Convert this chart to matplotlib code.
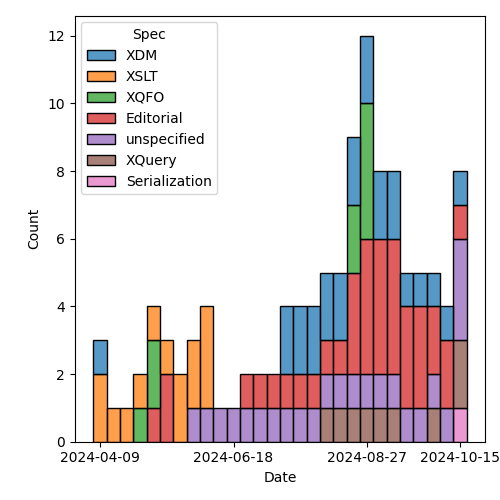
import numpy as np
import matplotlib
matplotlib.use("Agg")
import matplotlib.pyplot as plt
import matplotlib.dates as mdates
from matplotlib.patches import Patch
from matplotlib.colors import to_rgba

# weekly bins starting date
bin_start = np.datetime64("2024-04-05T08:00")
n_bins = 28
bin_days = 7

specs = ["XDM", "XSLT", "XQFO", "Editorial", "unspecified", "XQuery", "Serialization"]

#            1  2  3  4  5  6  7  8  9 10 11 12 13 14 15 16 17 18 19 20 21 22 23 24 25 26 27 28
XDM =       [1, 0, 0, 0, 0, 0, 0, 0, 0, 0, 0, 0, 0, 0, 2, 2, 2, 2, 2, 2, 2, 2, 2, 1, 1, 1, 1, 1]
XSLT =      [2, 1, 1, 1, 1, 1, 2, 2, 3, 0, 0, 0, 0, 0, 0, 0, 0, 0, 0, 0, 0, 0, 0, 0, 0, 0, 0, 0]
XQFO =      [0, 0, 0, 1, 2, 0, 0, 0, 0, 0, 0, 0, 0, 0, 0, 0, 0, 0, 0, 2, 4, 0, 0, 0, 0, 0, 0, 0]
Editorial = [0, 0, 0, 0, 1, 2, 0, 0, 0, 0, 0, 1, 1, 1, 1, 1, 1, 1, 1, 3, 4, 4, 4, 3, 3, 2, 2, 1]
unspec =    [0, 0, 0, 0, 0, 0, 0, 1, 1, 1, 1, 1, 1, 1, 1, 1, 1, 1, 1, 1, 1, 1, 1, 1, 1, 1, 1, 3]
XQuery =    [0, 0, 0, 0, 0, 0, 0, 0, 0, 0, 0, 0, 0, 0, 0, 0, 0, 1, 1, 1, 1, 1, 1, 0, 0, 1, 0, 2]
Serial =    [0, 0, 0, 0, 0, 0, 0, 0, 0, 0, 0, 0, 0, 0, 0, 0, 0, 0, 0, 0, 0, 0, 0, 0, 0, 0, 0, 1]

counts = [XDM, XSLT, XQFO, Editorial, unspec, XQuery, Serial]
tick_labels = ["2024-04-09", "2024-06-18", "2024-08-27", "2024-10-15"]

colors = plt.get_cmap("tab10").colors

fig, ax = plt.subplots(figsize=(5, 5), dpi=100)

edges = bin_start + np.arange(n_bins) * np.timedelta64(bin_days, "D")
x_left = mdates.date2num(edges.astype("datetime64[s]").astype(object))

bottom = np.zeros(n_bins)
# bottom of stack is the last hue level
for i in reversed(range(len(specs))):
    vals = np.array(counts[i], dtype=float)
    mask = vals > 0
    ax.bar(x_left[mask], vals[mask], width=bin_days, bottom=bottom[mask], align="edge",
           color=to_rgba(colors[i], 0.75), edgecolor="black", linewidth=1.0)
    bottom += vals

ax.xaxis_date()
ticks = [mdates.date2num(np.datetime64(t).astype("datetime64[s]").astype(object)) for t in tick_labels]
ax.set_xticks(ticks)
ax.set_xticklabels(tick_labels)
ax.set_xlabel("Date")
ax.set_ylabel("Count")
ax.set_yticks(range(0, 13, 2))
ax.margins(x=0.05)
ax.set_ylim(0, 12.6)

handles = [Patch(facecolor=to_rgba(colors[i], 0.75), edgecolor="black", linewidth=1.0, label=s)
           for i, s in enumerate(specs)]
ax.legend(handles=handles, title="Spec", loc="upper left")

fig.subplots_adjust(left=0.149, right=0.9706, bottom=0.1166, top=0.969)
fig.savefig("out.png", dpi=100)
